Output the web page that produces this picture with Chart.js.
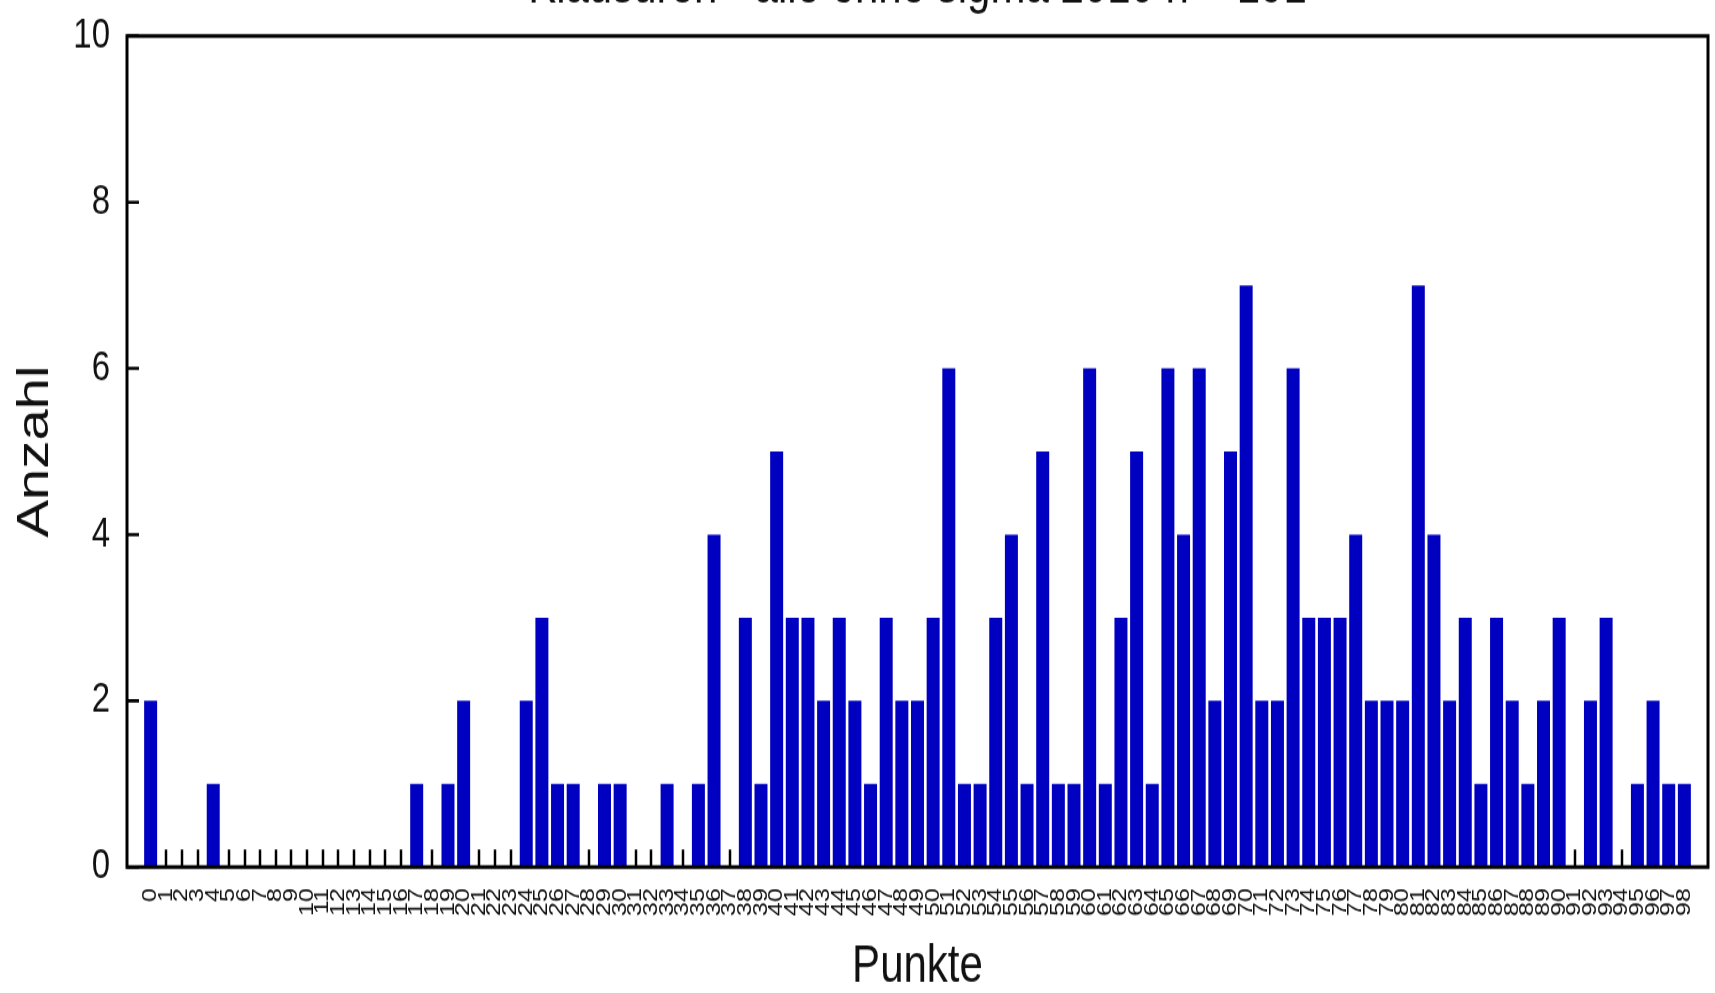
<!DOCTYPE html>
<html>
<head>
<meta charset="utf-8">
<script src="https://cdn.jsdelivr.net/npm/chart.js@4"></script>
<style>
  html { margin: 0; padding: 0; background: #fff; overflow: hidden; }
  body { margin: 0; padding: 0; background: #fff; width: 1715px; height: 993px; }
  #wrap { width: 1715px; height: 794px; transform: scaleY(1.25063); transform-origin: 0 0; }
</style>
</head>
<body>
<div id="wrap"><canvas id="c" width="1715" height="794"></canvas></div>
<script>
// Labels
const chartTitle = 'Klausuren - alle ohne sigma 2010 n = 191';
const xTitle = 'Punkte';
const yTitle = 'Anzahl';

// Score categories (points)
const punkte = [
   0,  1,  2,  3,  4,  5,  6,  7,  8,  9,
  10, 11, 12, 13, 14, 15, 16, 17, 18, 19,
  20, 21, 22, 23, 24, 25, 26, 27, 28, 29,
  30, 31, 32, 33, 34, 35, 36, 37, 38, 39,
  40, 41, 42, 43, 44, 45, 46, 47, 48, 49,
  50, 51, 52, 53, 54, 55, 56, 57, 58, 59,
  60, 61, 62, 63, 64, 65, 66, 67, 68, 69,
  70, 71, 72, 73, 74, 75, 76, 77, 78, 79,
  80, 81, 82, 83, 84, 85, 86, 87, 88, 89,
  90, 91, 92, 93, 94, 95, 96, 97, 98
];

// Number of exams per score
const anzahl = [
  2, 0, 0, 0, 1, 0, 0, 0, 0, 0,
  0, 0, 0, 0, 0, 0, 0, 1, 0, 1,
  2, 0, 0, 0, 2, 3, 1, 1, 0, 1,
  1, 0, 0, 1, 0, 1, 4, 0, 3, 1,
  5, 3, 3, 2, 3, 2, 1, 3, 2, 2,
  3, 6, 1, 1, 3, 4, 1, 5, 1, 1,
  6, 1, 3, 5, 1, 6, 4, 6, 2, 5,
  7, 2, 2, 6, 3, 3, 3, 4, 2, 2,
  2, 7, 4, 2, 3, 1, 3, 2, 1, 2,
  3, 0, 2, 3, 0, 1, 2, 1, 1
];

// Value axis ticks
const yTicks = [0, 2, 4, 6, 8, 10];

const FONT = "'Liberation Sans', Arial, Helvetica, sans-serif";
const INK = '#111';

// Frame around the plot, inward tick marks and the (top-clipped) heading
const framePlugin = {
  id: 'frame',
  beforeDatasetsDraw(chart) {
    const { ctx, chartArea: a, scales: { x, y } } = chart;
    ctx.save();
    ctx.strokeStyle = '#000';
    ctx.lineWidth = 2.5;
    ctx.beginPath();
    punkte.forEach(p => {
      const px = Math.round(x.getPixelForValue(p));
      ctx.moveTo(px, a.bottom);
      ctx.lineTo(px, a.bottom - 14);
    });
    ctx.stroke();
    ctx.lineWidth = 2.6;
    ctx.beginPath();
    yTicks.forEach(v => {
      const py = y.getPixelForValue(v);
      ctx.moveTo(a.left, py);
      ctx.lineTo(a.left + 12, py);
    });
    ctx.stroke();
    ctx.restore();
  },
  afterDatasetsDraw(chart) {
    const { ctx, chartArea: a } = chart;
    ctx.save();
    ctx.strokeStyle = '#000';
    ctx.lineWidth = 3;
    ctx.strokeRect(a.left, a.top, a.right - a.left, a.bottom - a.top);
    ctx.restore();
  },
  afterDraw(chart) {
    const { ctx, chartArea: a } = chart;
    ctx.save();
    ctx.fillStyle = INK;
    ctx.font = `42px ${FONT}`;
    ctx.textAlign = 'center';
    ctx.textBaseline = 'alphabetic';
    ctx.fillText(chartTitle, (a.left + a.right) / 2, 1.6);
    ctx.restore();
  }
};

new Chart(document.getElementById('c'), {
  type: 'bar',
  data: {
    datasets: [{
      data: punkte.map((p, i) => ({ x: p, y: anzahl[i] })),
      backgroundColor: '#0000c0',
      borderWidth: 0,
      barPercentage: 0.83,
      categoryPercentage: 1
    }]
  },
  options: {
    responsive: false,
    animation: false,
    devicePixelRatio: 1,
    layout: { padding: { top: 28.79, right: 7, bottom: 0, left: 0 } },
    plugins: { legend: { display: false }, tooltip: { enabled: false }, title: { display: false } },
    scales: {
      x: {
        type: 'linear',
        min: -1,
        max: 99,
        grid: { display: false, drawTicks: false },
        border: { display: false },
        afterBuildTicks: s => { s.ticks = punkte.map(v => ({ value: v })); },
        afterFit: s => {
          s.height = 100.75;
          s.paddingLeft = 0; s.paddingRight = 0; s.paddingTop = 0; s.paddingBottom = 0;
        },
        ticks: {
          autoSkip: false,
          minRotation: 90,
          maxRotation: 90,
          padding: 17,
          color: INK,
          font: { family: FONT, size: 20 },
          callback: v => String(v)
        },
        title: {
          display: true,
          text: xTitle,
          color: INK,
          font: { family: FONT, size: 42, lineHeight: 1 },
          padding: { top: 0, bottom: 0 }
        }
      },
      y: {
        min: 0,
        max: 10,
        grid: { display: false, drawTicks: false },
        border: { display: false },
        afterBuildTicks: s => { s.ticks = yTicks.map(v => ({ value: v })); },
        afterFit: s => {
          s.width = 127;
          s.paddingLeft = 0; s.paddingRight = 0; s.paddingTop = 0; s.paddingBottom = 0;
        },
        ticks: {
          padding: 17,
          color: INK,
          font: { family: FONT, size: 33 },
          callback: v => String(v)
        },
        title: {
          display: true,
          text: yTitle,
          color: INK,
          font: { family: FONT, size: 45, lineHeight: 1 },
          padding: { top: 13.5, bottom: 0 }
        }
      }
    }
  },
  plugins: [framePlugin]
});
</script>
</body>
</html>
